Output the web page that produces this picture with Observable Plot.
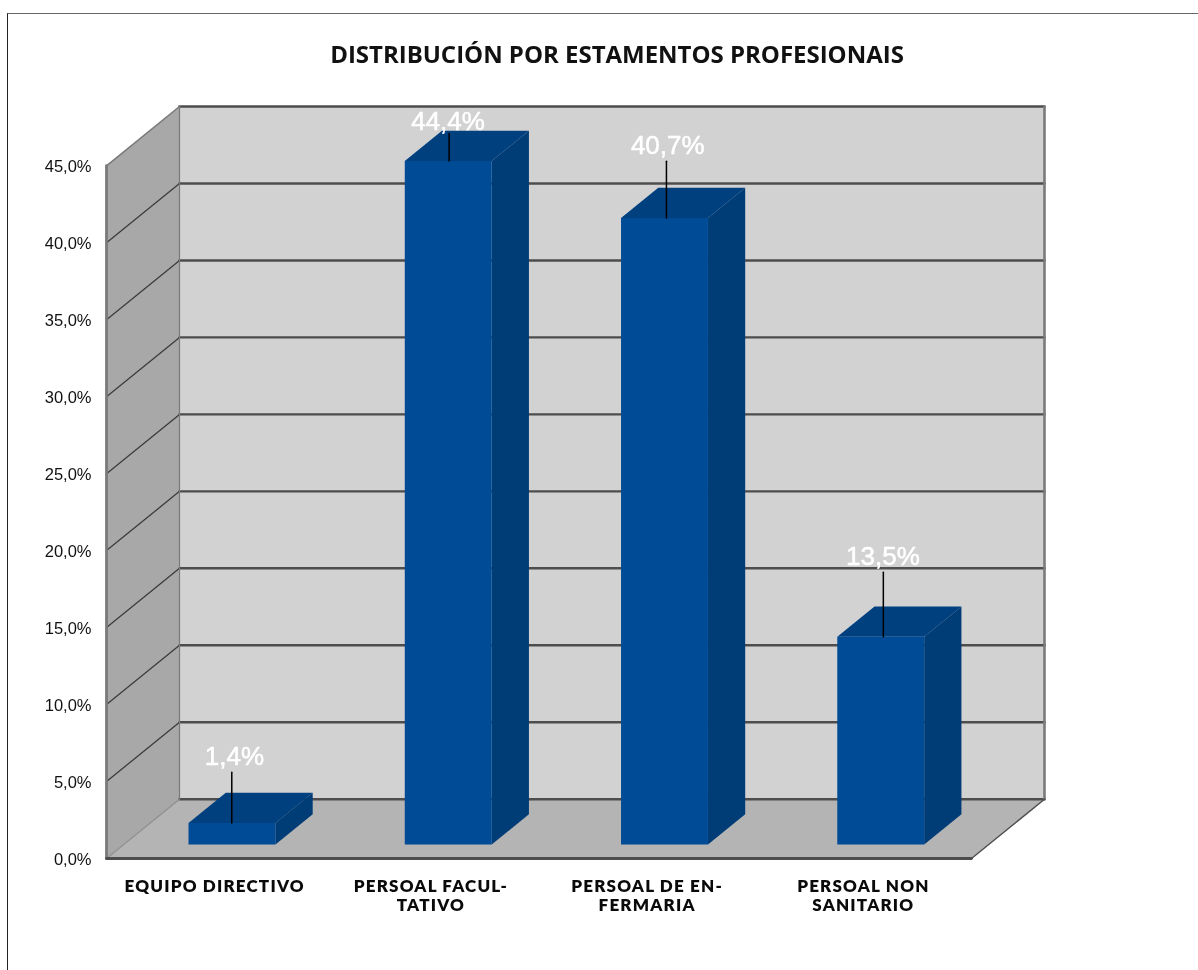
<!DOCTYPE html>
<html lang="gl">
<head>
<meta charset="utf-8">
<script src="https://cdn.jsdelivr.net/npm/d3@7"></script>
<script src="https://cdn.jsdelivr.net/npm/@observablehq/plot@0.6"></script>
<style>
  html, body { margin: 0; padding: 0; background: #fff; width: 1198px; height: 970px; overflow: hidden; }
  #frame { position: absolute; left: 7px; top: 13px; right: 0; bottom: 0; border-top: 1px solid #666; border-left: 1.5px solid #222; }
  #title { position: relative; height: 90px; margin: 0; text-align: center; font: 700 24px/1 "Open Sans", sans-serif;
           color: #111; padding-left: 36px; box-sizing: border-box; padding-top: 42px; letter-spacing: -0.02px; filter: blur(0.3px); }
  #chart { position: relative; display: block; }
  #chart svg { filter: blur(0.35px); }
  .catlabel text, text.catlabel, .catlabel { letter-spacing: 1.2px; }
</style>
</head>
<body>
<div id="frame"></div>
<h1 id="title">DISTRIBUCIÓN POR ESTAMENTOS PROFESIONAIS</h1>
<div id="chart"></div>
<script>
const categories = ["EQUIPO DIRECTIVO", "PERSOAL FACUL-\nTATIVO", "PERSOAL DE EN-\nFERMARIA", "PERSOAL NON\nSANITARIO"];
const values = [1.4, 44.4, 40.7, 13.5];
const valueLabels = ["1,4%", "44,4%", "40,7%", "13,5%"];
const leaderTop = [5.6, 47.1, 45.3, 18.6];
const leaderShift = [0, 0.005, 0.01, 0.013];
const labelAt = [6.6, 47.85, 46.3, 19.6];
const labelShift = [0.012, 0, 0.016, 0.011];
const yTicks = [0, 5, 10, 15, 20, 25, 30, 35, 40, 45];

// oblique projection of (category, value, depth) onto the plane of the x/y scales
const catCount = categories.length;
const yMax = 45;
const depthX = 0.3376;
const depthY = 3.85;
const barHalf = 0.2;
const barDepth = [0.235, 0.745];
const colors = { side: "#a8a8a8", back: "#d2d2d2", floor: "#b4b4b4", front: "#004b96", top: "#00407f", right: "#003c76",
                 grid: "#4d4d4d", edge: "#7a7a7a" };
const P = (c, v, d = 0) => ({ x: c + d * depthX, y: v + d * depthY });

const poly = (pts, fill) => Plot.line(pts, { x: "x", y: "y", fill, stroke: "none", curve: "linear" });
const seg = (a, b, stroke, strokeWidth) => Plot.line([a, b], { x: "x", y: "y", stroke, strokeWidth, strokeLinecap: "round" });

const marks = [];
// walls and floor
marks.push(poly([P(0, 0), P(0, yMax), P(0, yMax, 1), P(0, 0, 1)], colors.side));
marks.push(poly([P(0, 0, 1), P(0, yMax, 1), P(catCount, yMax, 1), P(catCount, 0, 1)], colors.back));
marks.push(poly([P(0, 0), P(0, 0, 1), P(catCount, 0, 1), P(catCount, 0)], colors.floor));
// wall grid lines
for (const t of yTicks) {
  if (t > 0 && t < yMax) marks.push(seg(P(0, t), P(0, t, 1), "#3c3c3c", 1.3));
  marks.push(seg(P(0, t, 1), P(catCount, t, 1), colors.grid, t === yMax || t === 0 ? 2.6 : 2.4));
}
// edges
marks.push(seg(P(0, yMax), P(0, yMax, 1), colors.edge, 1.6));
marks.push(seg(P(0, 0), P(0, 0, 1), "#8f8f8f", 1.2));
marks.push(seg(P(0, 0, 1), P(0, yMax, 1), colors.edge, 1.2));
marks.push(seg(P(catCount, 0, 1), P(catCount, yMax, 1), colors.edge, 2.6));
marks.push(seg(P(0, 0), P(0, yMax), colors.edge, 2.8));
marks.push(seg(P(0, 0), P(catCount, 0), "#4d4d4d", 2.8));
marks.push(seg(P(catCount, 0), P(catCount, 0, 1), "#4d4d4d", 1.4));
// bars
values.forEach((v, i) => {
  const c0 = i + 0.5 - barHalf, c1 = i + 0.5 + barHalf + 0.002;
  const [d0, d1] = barDepth;
  marks.push(poly([P(c0, v, d0), P(c0, v, d1), P(c1, v, d1), P(c1, v, d0)], colors.top));
  marks.push(poly([P(c1, 0, d0), P(c1, v, d0), P(c1, v, d1), P(c1, 0, d1)], colors.right));
  marks.push(poly([P(c0, 0, d0), P(c0, v, d0), P(c1, v, d0), P(c1, 0, d0)], colors.front));
  const cx = P(i + 0.5 + leaderShift[i], v, d0);
  marks.push(Plot.line([{ x: cx.x, y: cx.y }, { x: cx.x, y: leaderTop[i] }], { x: "x", y: "y", stroke: "#000", strokeWidth: 1.5 }));
});
// value labels
marks.push(Plot.text(values.map((v, i) => ({ x: P(i + 0.5 + labelShift[i], v, barDepth[0]).x, y: labelAt[i], t: valueLabels[i] })), {
  x: "x", y: "y", text: "t", fill: "#fff", stroke: "#fff", strokeWidth: 0.5, fontSize: 26, fontFamily: "Liberation Sans, sans-serif"
}));
// category labels
marks.push(Plot.text(categories.map((t, i) => ({ x: i + 0.5, t })), {
  x: "x", y: () => 0, text: "t", lineAnchor: "top", dy: 20, lineHeight: 1.12,
  fontSize: 17, fontWeight: 800, fontFamily: "Lato, sans-serif", fill: "#0a0a0a", className: "catlabel"
}));
// y axis
marks.push(Plot.axisY({
  ticks: yTicks, tickSize: 0, tickPadding: 15, label: null,
  tickFormat: d => d.toFixed(1).replace(".", ",") + "%",
  fontSize: 16.5, fontFamily: "Liberation Sans, sans-serif", fill: "#111", dy: 1
}));

const chart = Plot.plot({
  width: 1198, height: 880,
  marginLeft: 106, marginRight: 154, marginTop: 16, marginBottom: 112,
  x: { domain: [0, catCount + depthX], axis: null },
  y: { domain: [0, yMax + depthY] },
  style: { background: "transparent" },
  marks
});
document.getElementById("chart").appendChild(chart);
</script>
</body>
</html>
